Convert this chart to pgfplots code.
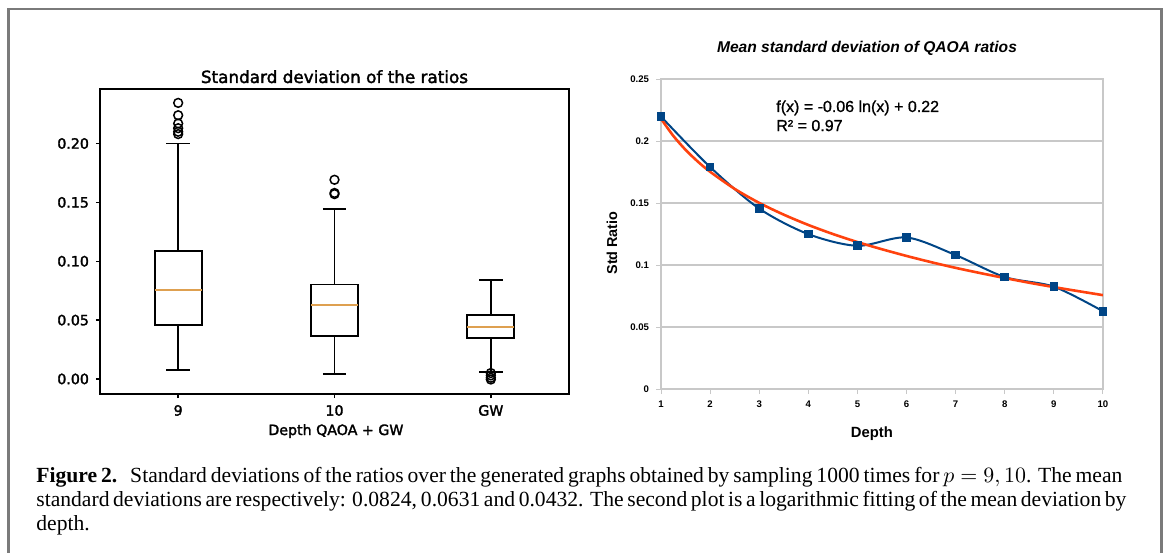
\documentclass[border=0pt]{standalone}
\usepackage{fontspec}
\usepackage{pgfplots}
\pgfplotsset{compat=1.18}
\usepgfplotslibrary{statistics}
\setmainfont{Liberation Serif}
\newfontfamily\mplfont[FakeBold=2]{DejaVu Sans}
\newfontfamily\lofont{Liberation Sans}
\newfontfamily\lofontm[FakeBold=1]{Liberation Sans}
\definecolor{lblue}{HTML}{004586}
\definecolor{lorange}{HTML}{FF420E}
\definecolor{medcol}{RGB}{222,160,80}
\definecolor{framegray}{HTML}{7A7A7A}
\definecolor{gridgray}{HTML}{C8C8C8}

\begin{document}
\begin{tikzpicture}
\useasboundingbox (0,0) rectangle (583.5pt,-276pt);
\draw[framegray, line width=1.2pt] (4.25pt,-290pt) -- (4.25pt,-4.5pt) -- (580.75pt,-4.5pt) -- (580.75pt,-290pt);

% ---------------- left: box plots ----------------
\begin{axis}[
  at={(50pt,-197pt)}, anchor=south west, scale only axis,
  width=234.5pt, height=152.5pt,
  xmin=0.5, xmax=3.5, ymin=-0.0128, ymax=0.2463,
  xtick={1,2,3}, xticklabels={9,10,GW},
  ytick={0,0.05,0.1,0.15,0.2},
  scaled y ticks=false,
  yticklabel style={/pgf/number format/fixed, /pgf/number format/fixed zerofill, /pgf/number format/precision=2},
  tick align=outside, tick pos=left, major tick length=2pt,
  axis line style={line width=0.9pt},
  every tick/.style={black, line width=0.7pt},
  tick label style={font=\mplfont\fontsize{7.1}{8}\selectfont},
  /pgf/number format/assume math mode=true,
  title={Standard deviation of the ratios},
  title style={font=\mplfont\fontsize{8.4}{10}\selectfont, at={(axis description cs:0.5,1.023)}, anchor=base, yshift=-6.5pt},
  xlabel={Depth QAOA + GW},
  xlabel style={font=\mplfont\fontsize{7.1}{8}\selectfont, at={(axis description cs:0.503,-0.1344)}, anchor=base},
  boxplot/draw direction=y,
  boxplot/every median/.style={medcol, line width=1pt},
]
\addplot[black, line width=0.9pt, mark=o, mark size=2.2pt, mark options={line width=0.75pt},
  boxplot prepared={draw position=1, median=0.0754, lower quartile=0.0458, upper quartile=0.1085,
    lower whisker=0.0079, upper whisker=0.200, box extend=0.3, whisker extend=0.15}]
  table[row sep=\\, header=false, y index=0]{0.2345\\0.224\\0.217\\0.213\\0.210\\0.208\\};
\addplot[black, line width=0.9pt, mark=o, mark size=2.2pt, mark options={line width=0.75pt},
  boxplot prepared={draw position=2, median=0.063, lower quartile=0.0362, upper quartile=0.0802,
    lower whisker=0.0042, upper whisker=0.1443, box extend=0.3, whisker extend=0.15}]
  table[row sep=\\, header=false, y index=0]{0.1692\\0.158\\0.157\\};
\addplot[black, line width=0.9pt, mark=o, mark size=2.2pt, mark options={line width=0.75pt},
  boxplot prepared={draw position=3, median=0.0438, lower quartile=0.035, upper quartile=0.0542,
    lower whisker=0.0056, upper whisker=0.0839, box extend=0.3, whisker extend=0.15}]
  table[row sep=\\, header=false, y index=0]{0.005\\0.003\\0.001\\-0.0005\\};
\end{axis}

% ---------------- right: mean std by depth ----------------
\begin{axis}[
  at={(330.5pt,-194.5pt)}, anchor=south west, scale only axis,
  width=221pt, height=155pt,
  xmin=1, xmax=10, ymin=0, ymax=0.25,
  xtick={1,2,3,4,5,6,7,8,9,10},
  ytick={0,0.05,0.1,0.15,0.2,0.25},
  scaled y ticks=false,
  yticklabel style={/pgf/number format/fixed, /pgf/number format/precision=2},
  ymajorgrids, grid style={gridgray, line width=0.6pt},
  axis line style={gridgray, line width=0.6pt},
  tick align=outside, tick pos=left, major tick length=2.5pt,
  every tick/.style={gridgray, line width=0.5pt},
  tick label style={font=\lofont\bfseries\fontsize{4.8}{5.5}\selectfont},
  /pgf/number format/assume math mode=true,
  title={Mean standard deviation of QAOA ratios},
  title style={font=\lofont\bfseries\itshape\fontsize{7.8}{9}\selectfont, at={(axis description cs:0.466,1.0903)}, anchor=base, yshift=-6.5pt},
  xlabel={Depth},
  xlabel style={font=\lofont\bfseries\fontsize{7.4}{9}\selectfont, at={(axis description cs:0.477,-0.158)}, anchor=base},
  ylabel={Std Ratio},
  ylabel style={font=\lofont\bfseries\fontsize{7.2}{9}\selectfont, at={(axis description cs:-0.1109,0.471)}, anchor=center},
]
\addplot[lblue, line width=1pt, smooth, mark=square*, mark size=1.9pt, mark options={fill=lblue, line width=0.5pt}]
  coordinates {(1,0.2197) (2,0.179) (3,0.1455) (4,0.1249) (5,0.1155) (6,0.1222) (7,0.108) (8,0.0903) (9,0.0825) (10,0.0627)};
\addplot[lorange, line width=1.3pt, smooth]
  coordinates {(1,0.2180) (1.25,0.2042) (1.5,0.1929) (1.75,0.1834) (2,0.1752) (2.5,0.1614) (3,0.1501) (3.5,0.1406) (4,0.1323) (4.5,0.1250) (5,0.1185) (5.5,0.1127) (6,0.1073) (6.5,0.1023) (7,0.0977) (7.5,0.0935) (8,0.0895) (8.5,0.0857) (9,0.0822) (9.5,0.0789) (10,0.0757)};
\node[anchor=base west, inner sep=0pt, font=\lofontm\fontsize{8}{9.6}\selectfont] at (axis cs:3.34,0.2234) {f(x) = -0.06 ln(x) + 0.22};
\node[anchor=base west, inner sep=0pt, font=\lofontm\fontsize{8}{9.6}\selectfont] at (axis cs:3.34,0.208) {R² = 0.97};
\end{axis}

% ---------------- caption ----------------
\node[anchor=base west, inner sep=0pt] at (18pt,-241pt) {\makebox[543pt][s]{\fontsize{10.8}{12}\selectfont\textbf{Figure 2.}\hspace{0.6em}Standard deviations of the ratios over the generated graphs obtained by sampling 1000 times for $p=9,10$. The mean}};
\node[anchor=base west, inner sep=0pt] at (18pt,-253pt) {\makebox[543pt][s]{\fontsize{10.8}{12}\selectfont standard deviations are respectively: 0.0824, 0.0631 and 0.0432. The second plot is a logarithmic fitting of the mean deviation by}};
\node[anchor=base west, inner sep=0pt] at (18pt,-265pt) {\fontsize{10.8}{12}\selectfont depth.};
\end{tikzpicture}
\end{document}
